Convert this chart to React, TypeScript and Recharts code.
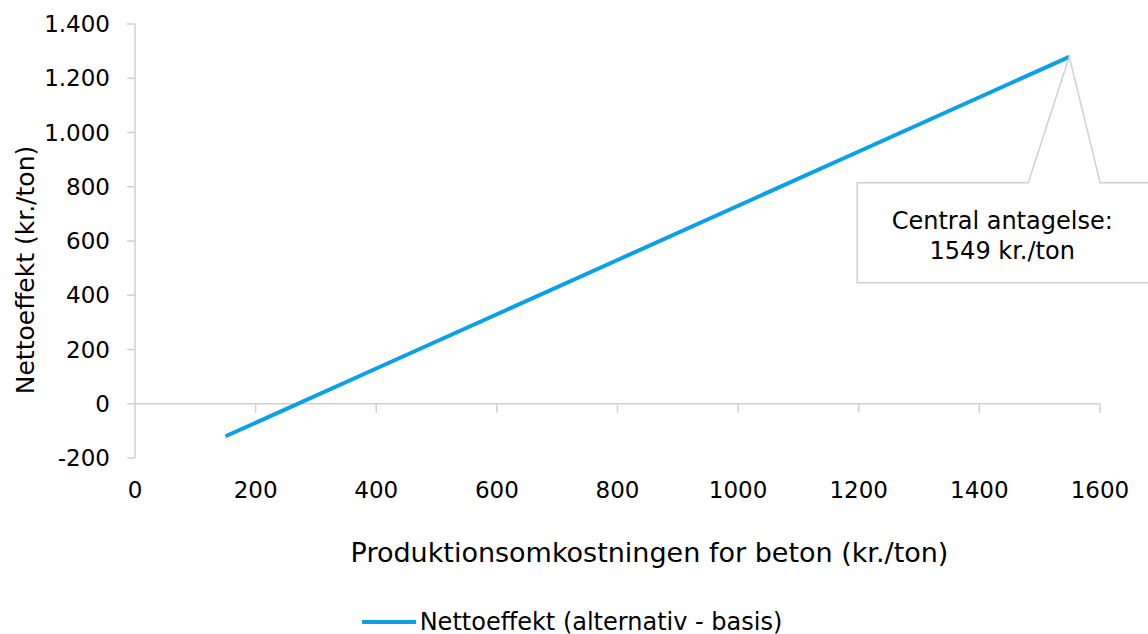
import React from 'react';
import { LineChart, Line, XAxis, YAxis, ReferenceLine, ReferenceDot, Legend, Label } from 'recharts';

const costs = [150, 400, 800, 1200, 1549];
const netEffect = [-120, 130, 530, 930, 1279];
const xTicks = [0, 200, 400, 600, 800, 1000, 1200, 1400, 1600];
const yTicks = [-200, 0, 200, 400, 600, 800, 1000, 1200, 1400];
const centralCost = 1549;
const centralEffect = 1279;
const calloutLines = ['Central antagelse:', '1549 kr./ton'];
const seriesName = 'Nettoeffekt (alternativ - basis)';
const xTitle = 'Produktionsomkostningen for beton (kr./ton)';
const yTitle = 'Nettoeffekt (kr./ton)';

const data = costs.map((c, i) => ({ cost: c, net: netEffect[i] }));

const FONT = '"DejaVu Sans", Verdana, sans-serif';
const AXIS = '#d0d0d0';
const BLUE = '#0aa0e8';

const fmtThousands = (v: number) => {
  const s = Math.abs(v).toString().replace(/\B(?=(\d{3})+(?!\d))/g, '.');
  return v < 0 ? `-${s}` : s;
};

function Callout(props: any) {
  const { cx, cy } = props;
  if (cx == null || cy == null) return null;
  const top = cy + 126;
  const bottom = cy + 226;
  const left = cx - 212;
  const right = cx + 120;
  const d = `M${left},${top} L${cx - 41},${top} L${cx},${cy} L${cx + 31},${top} L${right},${top} L${right},${bottom} L${left},${bottom} Z`;
  return (
    <g>
      <path d={d} fill="#fff" stroke={AXIS} strokeWidth={1.5} />
      {calloutLines.map((t, i) => (
        <text
          key={t}
          x={cx - 67}
          y={cy + 164 + i * 30}
          textAnchor="middle"
          dominantBaseline="central"
          fontSize={24}
          fontFamily={FONT}
          fill="#000"
        >
          {t}
        </text>
      ))}
    </g>
  );
}

function LegendContent() {
  return (
    <div style={{ display: 'flex', justifyContent: 'center', alignItems: 'center', paddingLeft: 44, fontFamily: FONT, fontSize: 24, lineHeight: '24px', color: '#000' }}>
      <svg width={54} height={6} style={{ marginRight: 4 }}>
        <line x1={1} y1={3} x2={53} y2={3} stroke={BLUE} strokeWidth={4} strokeLinecap="round" />
      </svg>
      <span>{seriesName}</span>
    </div>
  );
}

function YTitle() {
  return (
    <text
      x={25}
      y={270}
      transform="rotate(-90, 25, 270)"
      textAnchor="middle"
      dominantBaseline="central"
      fontSize={25}
      fontFamily={FONT}
      fill="#000"
    >
      {yTitle}
    </text>
  );
}

export default function App() {
  return (
    <div style={{ position: 'absolute', left: 0, top: 0, background: '#fff' }}>
      <LineChart width={1148} height={634} data={data} margin={{ top: 24, right: 48, left: 0, bottom: 0 }}>
        <XAxis
          dataKey="cost"
          type="number"
          domain={[0, 1600]}
          ticks={xTicks}
          axisLine={false}
          tickLine={false}
          tickSize={0}
          tickMargin={24}
          height={152}
          tick={{ fontSize: 23, fontFamily: FONT, fill: '#000' }}
        >
          <Label
            value={xTitle}
            position="insideBottom"
            offset={48}
            dx={32}
            style={{ fontSize: 27, fontFamily: FONT, fill: '#000' }}
          />
        </XAxis>
        <YAxis
          type="number"
          domain={[-200, 1400]}
          ticks={yTicks}
          width={135}
          axisLine={{ stroke: AXIS, strokeWidth: 1.5 }}
          tickLine={{ stroke: AXIS, strokeWidth: 1.5 }}
          tickSize={8}
          tickMargin={17}
          tickFormatter={fmtThousands}
          tick={{ fontSize: 23, fontFamily: FONT, fill: '#000' }}
        >
          <Label content={<YTitle />} />
        </YAxis>
        <ReferenceLine y={0} stroke={AXIS} strokeWidth={1.5} />
        {xTicks.slice(1).map((t) => (
          <ReferenceLine
            key={t}
            segment={[{ x: t, y: 0 }, { x: t, y: -33 }]}
            stroke={AXIS}
            strokeWidth={1.5}
          />
        ))}
        <Line
          type="linear"
          dataKey="net"
          name={seriesName}
          stroke={BLUE}
          strokeWidth={4}
          dot={false}
          activeDot={false}
          isAnimationActive={false}
        />
        <ReferenceDot x={centralCost} y={centralEffect} shape={<Callout />} />
        <Legend verticalAlign="bottom" height={24} content={<LegendContent />} />
      </LineChart>
    </div>
  );
}
